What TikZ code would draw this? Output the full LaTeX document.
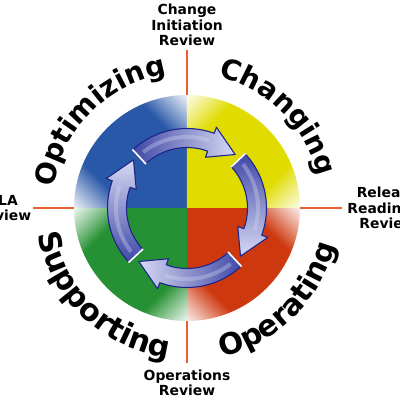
\documentclass[tikz,border=0pt]{standalone}
\usepackage{fontspec}
\setmainfont{DejaVu Sans}
\usetikzlibrary{decorations.text}
\definecolor{qb}{RGB}{42,88,168}
\definecolor{qy}{RGB}{224,220,0}
\definecolor{qr}{RGB}{206,56,14}
\definecolor{qg}{RGB}{38,145,52}
\definecolor{axisline}{RGB}{232,96,48}
\definecolor{arrowdark}{RGB}{28,38,138}
\definecolor{arrowmid}{RGB}{64,72,166}
\definecolor{arrowlight}{RGB}{214,217,242}
\pgfdeclarehorizontalshading{shqb}{100bp}{color(0bp)=(white); color(25bp)=(qb!8!white); color(30bp)=(qb!45!white); color(37bp)=(qb); color(63bp)=(qb); color(70bp)=(qb!45!white); color(75bp)=(qb!8!white); color(100bp)=(white)}
\pgfdeclarehorizontalshading{shqy}{100bp}{color(0bp)=(white); color(25bp)=(qy!8!white); color(30bp)=(qy!45!white); color(37bp)=(qy); color(63bp)=(qy); color(70bp)=(qy!45!white); color(75bp)=(qy!8!white); color(100bp)=(white)}
\pgfdeclarehorizontalshading{shqr}{100bp}{color(0bp)=(white); color(25bp)=(qr!8!white); color(30bp)=(qr!45!white); color(37bp)=(qr); color(63bp)=(qr); color(70bp)=(qr!45!white); color(75bp)=(qr!8!white); color(100bp)=(white)}
\pgfdeclarehorizontalshading{shqg}{100bp}{color(0bp)=(white); color(25bp)=(qg!8!white); color(30bp)=(qg!45!white); color(37bp)=(qg); color(63bp)=(qg); color(70bp)=(qg!45!white); color(75bp)=(qg!8!white); color(100bp)=(white)}
\newcommand\curvefont{\fontsize{28}{28}\selectfont\bfseries}
\newcommand\curvefontS{\fontsize{30.5}{30.5}\selectfont\bfseries}
\newcommand\curvefontO{\fontsize{29.5}{29.5}\selectfont\bfseries}
\newcommand\lblfont{\fontsize{13.9}{15.6}\selectfont\bfseries}
\tikzset{
  axisln/.style={draw=axisline, line width=1.1pt},
  lbl/.style={font=\lblfont, align=center, inner sep=0pt, text=black},
  curvetext/.style={decorate, decoration={text along path, text align=center, text={#1}}},
}
\begin{document}
\begin{tikzpicture}[x=1pt,y=1pt]
\useasboundingbox (-187,-192) rectangle (213,208);
\def\R{113}
% quadrants
\foreach \a/\sh/\rot in {90/shqb/45, 0/shqy/-45, 270/shqr/45, 180/shqg/-45}{
  \begin{scope}
    \clip (0,0) -- (\a:\R) arc[start angle=\a, delta angle=90, radius=\R] -- cycle;
    \begin{scope}[transform canvas={rotate=\rot}]
      \shade[shading=\sh] (-79.9,-\R) rectangle (79.9,\R);
    \end{scope}
  \end{scope}
}
% axis lines
\coordinate (cN) at (0,\R); \coordinate (eN) at (0,158);
\coordinate (cS) at (0,-\R); \coordinate (eS) at (0,-155);
\coordinate (cW) at (-\R,0); \coordinate (eW) at (-154,0);
\coordinate (cE) at (\R,0); \coordinate (eE) at (155,0);
\draw[axisln] (cN) -- (eN);
\draw[axisln] (cS) -- (eS);
\draw[axisln] (cW) -- (eW);
\draw[axisln] (cE) -- (eE);
% arrows
\def\Rc{70}\def\w{9.5}\def\W{16}
\foreach \i in {0,1,2,3}{
  \pgfmathsetmacro\ta{133-90*\i}
  \pgfmathsetmacro\tb{48-90*\i}
  \pgfmathsetmacro\th{70-90*\i}
  \pgfmathsetmacro\sa{90-90*\i}
  \shade[draw=arrowdark, line width=1.1pt, line join=round, top color=arrowmid, bottom color=arrowlight, shading angle=\sa]
    (\ta:\Rc+\w) arc[start angle=\ta, end angle=\th, radius=\Rc+\w]
    -- (\th:\Rc+\W) -- (\tb:\Rc+2) -- (\th:\Rc-\W) -- (\th:\Rc-\w)
    arc[start angle=\th, end angle=\ta, radius=\Rc-\w] -- cycle;
  \draw[arrowlight, opacity=.35, line width=4pt]
    (\ta-5:\Rc+1) arc[start angle=\ta-5, end angle=\th+2, radius=\Rc+1];
  \draw[white, line width=1.6pt] (\ta:\Rc+\w+.5) -- (\ta:\Rc-\w-.5);
}
% curved titles
\path[curvetext={|\curvefont|Optimizing}] (175:135) arc[start angle=175, end angle=95, radius=135];
\path[curvetext={|\curvefont|Changing}] (85:135) arc[start angle=85, end angle=5, radius=135];
\path[curvetext={|\curvefontS|Supporting}] (186.5:151) arc[start angle=186.5, end angle=266.5, radius=151];
\path[curvetext={|\curvefontO|Operating}] (274.5:153) arc[start angle=274.5, end angle=354.5, radius=153];
% labels
\node[lbl] (top) at (0,183) {Change\\Initiation\\Review};
\node[lbl] (bot) at (0,-175) {Operations\\Review};
\node[lbl] (rgt) at (200.5,0) {Release\\Readiness\\Review};
\node[lbl] (lft) at (-184,0) {SLA\\Review};
\end{tikzpicture}
\end{document}
